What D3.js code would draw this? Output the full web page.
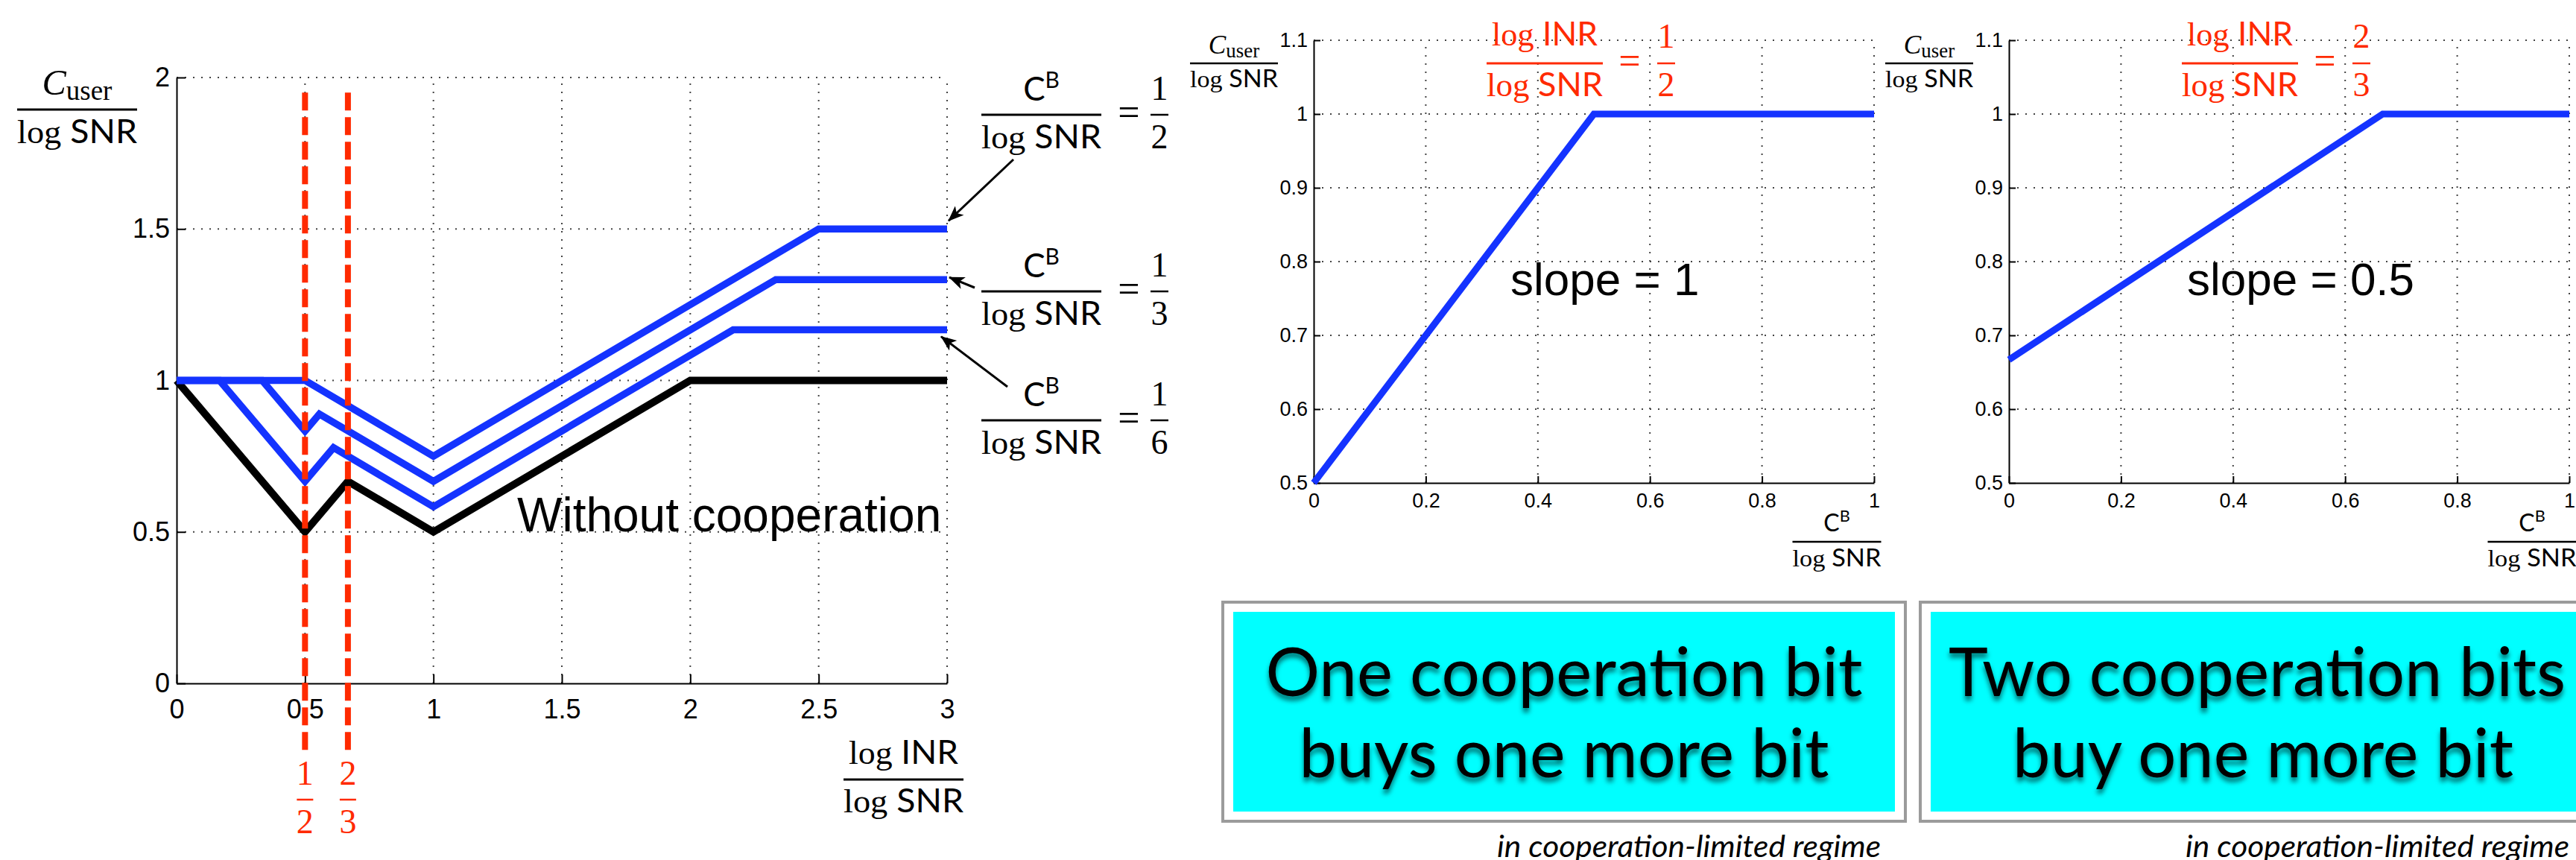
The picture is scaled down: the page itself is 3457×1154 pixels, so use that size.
<!DOCTYPE html>
<html>
<head>
<meta charset="utf-8">
<script src="https://cdn.jsdelivr.net/npm/d3@7"></script>
<style>
  body { margin: 0; background: #fff; }
  svg  { display: block; }
</style>
</head>
<body>
<svg id="main" width="3457" height="1154"></svg>
<script>

// ---------- data ----------
var alphaTicks = [0, 0.5, 1, 1.5, 2, 2.5, 3];
var userTicksL = [0, 0.5, 1, 1.5, 2];
var kappaTicks = [0, 0.2, 0.4, 0.6, 0.8, 1];
var userTicksR = [0.5, 0.6, 0.7, 0.8, 0.9, 1, 1.1];

// left plot: log INR / log SNR  ->  C_user / log SNR
var noCoopAlpha = [0, 0.5, 0.667, 1, 2, 3];
var noCoopD     = [1, 0.5, 0.667, 0.5, 1, 1];
var sixthAlpha  = [0, 0.167, 0.5, 0.611, 1, 2.167, 3];
var sixthD      = [1, 1, 0.667, 0.778, 0.583, 1.167, 1.167];
var thirdAlpha  = [0, 0.333, 0.5, 0.556, 1, 2.333, 3];
var thirdD      = [1, 1, 0.833, 0.889, 0.667, 1.333, 1.333];
var halfAlpha   = [0, 0.5, 1, 2.5, 3];
var halfD       = [1, 1, 0.75, 1.5, 1.5];

var markAlpha = [0.5, 0.667];
var markNum   = ["1", "2"];
var markDen   = ["2", "3"];

var legendNum   = ["1", "1", "1"];
var legendDen   = ["2", "3", "6"];
var legendLevel = [1.5, 1.333, 1.167];

// small plots: C^B / log SNR  ->  C_user / log SNR
var kappaA = [0, 0.5, 1],   dA = [0.5, 1, 1];
var kappaB = [0, 0.667, 1], dB = [0.667, 1, 1];
var inrNum = ["1", "2"];
var inrDen = ["2", "3"];
var slopeLabels = ["slope = 1", "slope = 0.5"];

var boxLines = [["One cooperation bit", "buys one more bit"],
                ["Two cooperation bits", "buy one more bit"]];
var regimeText = "in cooperation-limited regime";

// ---------- setup ----------
var RED = "#ff2a00", BLUE = "#1433ff";
var RM = "'Liberation Serif', 'Times New Roman', serif";
var SF = "Lato, 'Open Sans', sans-serif";
var HV = "'Liberation Sans', Arial, Helvetica, sans-serif";

var svg = d3.select("#main");
var defs = svg.append("defs");

defs.append("marker")
    .attr("id", "arrow")
    .attr("viewBox", "0 0 20 16")
    .attr("refX", 19).attr("refY", 8)
    .attr("markerWidth", 24).attr("markerHeight", 17)
    .attr("markerUnits", "userSpaceOnUse")
    .attr("orient", "auto")
  .append("path")
    .attr("d", "M0,0 L20,8 L0,16 L5,8 Z")
    .attr("fill", "#000");

defs.append("filter").attr("id", "shadow")
    .attr("x", "-5%").attr("y", "-20%").attr("width", "110%").attr("height", "160%")
  .append("feDropShadow")
    .attr("dx", 0).attr("dy", 6).attr("stdDeviation", 3)
    .attr("flood-color", "#000").attr("flood-opacity", 0.55);

// text made of tspans (serif "log", sans "SNR", italic C, sub/superscripts)
function mtext(parent, x, y, parts, size, color, anchor, len) {
  var t = parent.append("text")
      .attr("x", x).attr("y", y)
      .attr("text-anchor", anchor || "middle")
      .attr("fill", color || "#000")
      .attr("font-size", size);
  if (len) t.attr("textLength", len).attr("lengthAdjust", "spacingAndGlyphs");
  parts.forEach(function(p) {
    var sp = t.append("tspan").text(p.t).attr("font-family", p.f || RM);
    if (p.s)  sp.attr("font-size", size * p.s);
    if (p.dy) sp.attr("dy", p.dy);
    if (p.i)  sp.attr("font-style", "italic");
  });
  return t;
}

function frac(parent, cx, by, w, num, den, size, color, o) {
  o = o || {};
  color = color || "#000";
  parent.append("line")
      .attr("x1", cx - w / 2).attr("x2", cx + w / 2)
      .attr("y1", by).attr("y2", by)
      .attr("stroke", color).attr("stroke-width", o.bw || 3);
  mtext(parent, cx, by - o.up,   num, size, color, "middle", o.numLen);
  mtext(parent, cx, by + o.down, den, size, color, "middle", o.denLen);
}

function equals(parent, x, by, size, color) {
  parent.append("text")
      .attr("x", x).attr("y", by + size * 0.27)
      .attr("text-anchor", "middle")
      .attr("font-family", RM).attr("font-size", size)
      .attr("fill", color || "#000")
      .text("=");
}

var logSNR = [{t: "log", f: RM}, {t: " SNR", f: SF}];
var logINR = [{t: "log", f: RM}, {t: " INR", f: SF}];
var cUser  = [{t: "C", f: RM, i: true, s: 1.1}, {t: "user", f: RM, s: 0.84, dy: 7}];
var cB     = [{t: "C", f: SF}, {t: "B", f: SF, s: 0.68, dy: -17}];

function drawAxes(g, x, y, xt, yt, o) {
  var x0 = x.range()[0], x1 = x.range()[1];
  var y0 = y.range()[0], y1 = y.range()[1];
  var grid = g.append("g")
      .attr("stroke", "#444").attr("stroke-width", 2).attr("stroke-dasharray", "2,9");
  grid.selectAll(".gx").data(xt.slice(1)).enter().append("line")
      .attr("x1", function(d) { return x(d); }).attr("x2", function(d) { return x(d); })
      .attr("y1", y0).attr("y2", y1);
  grid.selectAll(".gy").data(yt.slice(1)).enter().append("line")
      .attr("y1", function(d) { return y(d); }).attr("y2", function(d) { return y(d); })
      .attr("x1", x0).attr("x2", x1);

  var fmt = d3.format("~g");
  var ax = g.append("g")
      .attr("transform", "translate(0," + y0 + ")")
      .call(d3.axisBottom(x).tickValues(xt).tickFormat(fmt)
              .tickSizeInner(-o.tick).tickSizeOuter(0).tickPadding(o.padX));
  var ay = g.append("g")
      .attr("transform", "translate(" + x0 + ",0)")
      .call(d3.axisLeft(y).tickValues(yt).tickFormat(fmt)
              .tickSizeInner(-o.tick).tickSizeOuter(0).tickPadding(o.padY));
  [ax, ay].forEach(function(a) {
    a.selectAll("path, line").attr("stroke", "#000").attr("stroke-width", 2);
    a.selectAll("text").attr("font-family", HV).attr("font-size", o.font).attr("fill", "#000");
  });
}

function polyline(g, x, y, xs, ys, color, width) {
  var line = d3.line()
      .x(function(d) { return x(d[0]); })
      .y(function(d) { return y(d[1]); });
  g.append("path")
      .datum(d3.zip(xs, ys))
      .attr("d", line)
      .attr("fill", "none")
      .attr("stroke", color)
      .attr("stroke-width", width)
      .attr("stroke-linejoin", "miter");
}

// ---------- left plot ----------
var xL = d3.scaleLinear().domain([0, 3]).range([237, 1271]);
var yL = d3.scaleLinear().domain([0, 2]).range([917, 104]);
var gL = svg.append("g");

drawAxes(gL, xL, yL, alphaTicks, userTicksL, {tick: 12, padX: 21, padY: 9, font: 36});

polyline(gL, xL, yL, noCoopAlpha, noCoopD, "#000", 10);
polyline(gL, xL, yL, sixthAlpha, sixthD, BLUE, 9.5);
polyline(gL, xL, yL, thirdAlpha, thirdD, BLUE, 9.5);
polyline(gL, xL, yL, halfAlpha, halfD, BLUE, 9.5);

markAlpha.forEach(function(a, i) {
  gL.append("line")
      .attr("x1", xL(a)).attr("x2", xL(a))
      .attr("y1", yL(1.95)).attr("y2", yL(-0.22))
      .attr("stroke", RED).attr("stroke-width", 8)
      .attr("stroke-dasharray", "24,9");
  frac(gL, xL(a), 1073, 22,
       [{t: markNum[i], f: RM}], [{t: markDen[i], f: RM}],
       46, RED, {up: 20, down: 45, bw: 2.5});
});

gL.append("text")
    .attr("x", 694).attr("y", 713)
    .attr("font-family", HV).attr("font-size", 64)
    .text("Without cooperation");

// axis labels
frac(gL, 103.5, 147, 161, cUser, logSNR, 44, "#000", {up: 20, down: 45, denLen: 161});
frac(gL, 1212.5, 1046, 161, logINR, logSNR, 44, "#000",
     {up: 21, down: 44, numLen: 147, denLen: 161});

// legend with arrows
var legendBar = [154, 391, 564];
var arrowFrom = [[1360, 214], [1308, 386], [1352, 519]];
var arrowOff  = [[2, -11], [3, -3], [-8, 9]];
legendDen.forEach(function(den, i) {
  var by = legendBar[i];
  frac(gL, 1397.5, by, 161, cB, logSNR, 44, "#000", {up: 19, down: 45, denLen: 161});
  equals(gL, 1515, by, 52);
  frac(gL, 1556, by, 24, [{t: legendNum[i], f: RM}], [{t: den, f: RM}],
       46, "#000", {up: 20, down: 45, bw: 2.5});
  gL.append("line")
      .attr("x1", arrowFrom[i][0]).attr("y1", arrowFrom[i][1])
      .attr("x2", xL(3) + arrowOff[i][0]).attr("y2", yL(legendLevel[i]) + arrowOff[i][1])
      .attr("stroke", "#000").attr("stroke-width", 3)
      .attr("marker-end", "url(#arrow)");
});

// ---------- two small plots ----------
var small = [
  {x0: 1763, ks: kappaA, ds: dA},
  {x0: 2696, ks: kappaB, ds: dB}
];
var yS = d3.scaleLinear().domain([0.5, 1.1]).range([648, 54]);

small.forEach(function(p, i) {
  var xS = d3.scaleLinear().domain([0, 1]).range([p.x0, p.x0 + 752]);
  var g = svg.append("g");
  drawAxes(g, xS, yS, kappaTicks, userTicksR, {tick: 9, padX: 14, padY: 8, font: 27});
  polyline(g, xS, yS, p.ks, p.ds, BLUE, 9);

  // y label, x label
  frac(g, p.x0 - 107, 85, 118, cUser.map(function(c) {
         return c.dy ? {t: c.t, f: c.f, s: c.s, dy: 5} : c; }),
       logSNR, 32, "#000", {up: 13, down: 32, bw: 2.5, denLen: 118});
  frac(g, p.x0 + 702, 727, 119,
       [{t: "C", f: SF}, {t: "B", f: SF, s: 0.68, dy: -13}],
       logSNR, 32, "#000", {up: 14, down: 33, bw: 2.5, denLen: 119});

  // red title
  frac(g, p.x0 + 310, 85, 156, logINR, logSNR, 44, RED,
       {up: 24, down: 44, numLen: 142, denLen: 156});
  equals(g, p.x0 + 424, 85, 52, RED);
  frac(g, p.x0 + 473, 85, 24, [{t: inrNum[i], f: RM}], [{t: inrDen[i], f: RM}],
       46, RED, {up: 21, down: 44, bw: 2.5});

  g.append("text")
      .attr("x", p.x0 + 264 - (i ? 25 : 0)).attr("y", 396)
      .attr("font-family", HV).attr("font-size", 62)
      .text(slopeLabels[i]);
});

// ---------- cyan boxes ----------
var boxX = [1641, 2577], boxW = [916, 920];
var lineLen = [[801, 711], [828, 672]];
var regimeX = [2009, 2933];
boxLines.forEach(function(lines, i) {
  var g = svg.append("g");
  g.append("rect")
      .attr("x", boxX[i]).attr("y", 808).attr("width", boxW[i]).attr("height", 294)
      .attr("fill", "#fff").attr("stroke", "#9b9b9b").attr("stroke-width", 4);
  g.append("rect")
      .attr("x", boxX[i] + 14).attr("y", 821).attr("width", boxW[i] - 28).attr("height", 268)
      .attr("fill", "#00ffff");
  var cx = boxX[i] + boxW[i] / 2;
  [934, 1043].forEach(function(by, j) {
    g.append("text")
        .attr("x", j === 0 && i === 1 ? cx - 8 : cx).attr("y", by)
        .attr("text-anchor", "middle")
        .attr("font-family", SF).attr("font-size", 92)
        .attr("textLength", lineLen[i][j]).attr("lengthAdjust", "spacingAndGlyphs")
        .attr("filter", "url(#shadow)")
        .text(lines[j]);
  });
  g.append("text")
      .attr("x", regimeX[i]).attr("y", 1150)
      .attr("font-family", SF).attr("font-style", "italic").attr("font-size", 40)
      .attr("textLength", 515).attr("lengthAdjust", "spacingAndGlyphs")
      .text(regimeText);
});

</script>
</body>
</html>
